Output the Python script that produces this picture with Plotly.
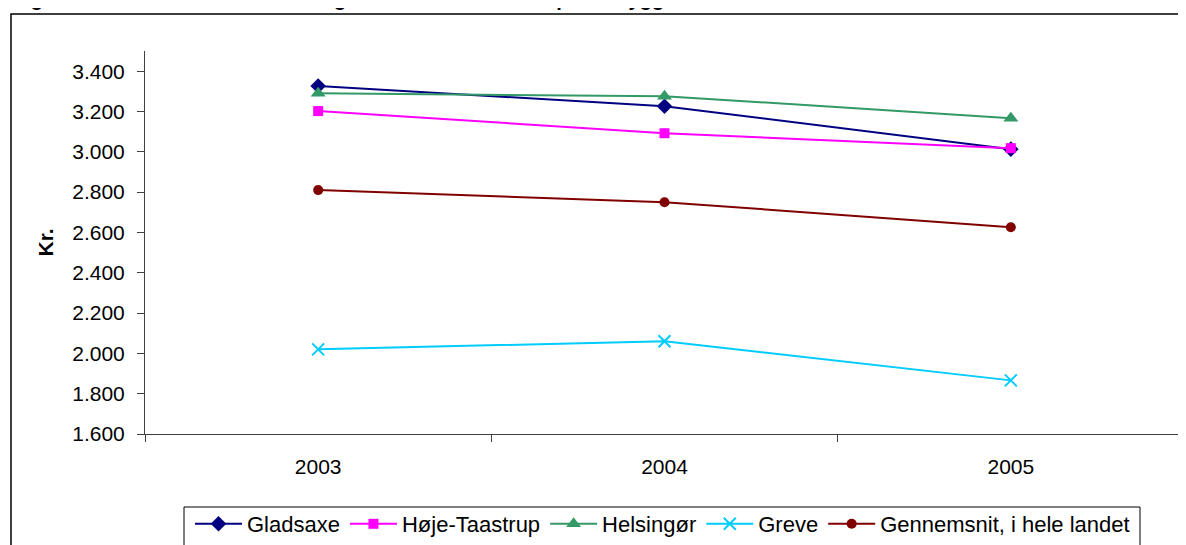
import plotly.graph_objects as go

years = ["2003", "2004", "2005"]
gladsaxe = [3326, 3226, 3013]
hoeje_taastrup = [3202, 3092, 3018]
helsingoer = [3290, 3276, 3167]
greve = [2020, 2060, 1866]
gennemsnit = [2810, 2750, 2626]
y_ticks = [1600, 1800, 2000, 2200, 2400, 2600, 2800, 3000, 3200, 3400]

# the page body adds an 8px margin, so the figure itself is 8px smaller
OFF = 8
W, H = 1186 - OFF, 545 - OFF
L, R, T, B = 145 - OFF, 2, 51 - OFF, 111
pw, ph = W - L - R, H - T - B


def px(x):
    # page pixel -> paper x
    return (x - OFF - L) / pw


def py(y):
    # page pixel -> paper y
    return 1 - (y - OFF - T) / ph


series = [
    ("Gladsaxe", gladsaxe, "#000080", "diamond", 12),
    ("Høje-Taastrup", hoeje_taastrup, "#FF00FF", "square", 10),
    ("Helsingør", helsingoer, "#339966", "triangle-up", 13),
    ("Greve", greve, "#00CCFF", "x-thin", 12),
    ("Gennemsnit, i hele landet", gennemsnit, "#800000", "circle", 10),
]

fig = go.Figure()
for name, vals, col, sym, size in series:
    fig.add_trace(go.Scatter(
        x=years, y=vals, name=name, mode="lines+markers",
        line=dict(color=col, width=2),
        marker=dict(symbol=sym, size=size, color=col,
                    line=dict(color=col, width=2 if sym == "x-thin" else 0)),
    ))

font = "Liberation Sans, Arial, sans-serif"

fig.update_layout(
    width=W, height=H,
    margin=dict(l=L, r=R, t=T, b=B, autoexpand=False),
    paper_bgcolor="white", plot_bgcolor="white",
    separators=",.",
    font=dict(family=font, size=21, color="black"),
    showlegend=True,
    legend=dict(
        orientation="h", x=px(190), xanchor="left", y=py(503), yanchor="top",
        font=dict(size=22), bgcolor="rgba(0,0,0,0)", borderwidth=0,
        itemwidth=47, tracegroupgap=0,
    ),
    xaxis=dict(
        type="category", range=[-0.5, 2.5], showgrid=False,
        showline=True, linecolor="#404040", linewidth=1,
        ticks="outside", tickson="boundaries", ticklen=7, tickcolor="#404040",
        ticklabelstandoff=14, tickfont=dict(size=21),
    ),
    yaxis=dict(
        range=[1600, 3500], tickvals=y_ticks, tickformat=",.0f",
        showgrid=False, zeroline=False,
        showline=True, linecolor="#404040", linewidth=1,
        ticks="outside", ticklen=7, tickcolor="#404040",
        ticklabelstandoff=8, tickfont=dict(size=21),
        title=dict(text="<b>Kr.</b>", font=dict(size=21), standoff=12),
    ),
    shapes=[
        # outer chart frame
        dict(type="rect", xref="paper", yref="paper",
             x0=px(11), x1=px(1200), y0=py(560), y1=py(14),
             line=dict(color="black", width=1.5), layer="below"),
        # legend box
        dict(type="rect", xref="paper", yref="paper",
             x0=px(184), x1=px(1140), y0=py(560), y1=py(507),
             line=dict(color="black", width=1), layer="below"),
    ],
    annotations=[
        dict(text="<b>Figur 4. Kommunale nettodriftsudgifter til administration pr. indbygger</b>",
             xref="paper", yref="paper", x=px(11), y=py(12),
             xanchor="left", yanchor="bottom", showarrow=False,
             font=dict(size=20, color="black")),
    ],
)

fig.write_html("out.html")
